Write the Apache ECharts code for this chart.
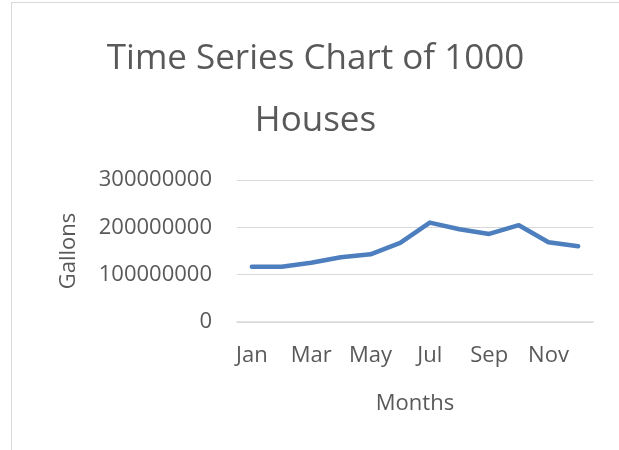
<!DOCTYPE html>
<html>
<head>
<meta charset="utf-8">
<script src="https://cdn.jsdelivr.net/npm/echarts@6/dist/echarts.min.js"></script>
<style>
html,body{margin:0;padding:0;background:#fff;width:619px;height:450px;overflow:hidden;}
#wrap{position:absolute;left:11px;top:2px;width:607px;height:448px;border-left:1px solid #d9d9d9;border-top:1px solid #d9d9d9;}
#chart{width:607px;height:448px;}
</style>
</head>
<body>
<div id="wrap"><div id="chart"></div></div>
<script>
const titleText = 'Time Series Chart of 1000\nHouses';
const months = ['Jan','Feb','Mar','Apr','May','Jun','Jul','Aug','Sep','Oct','Nov','Dec'];
const gallons = [116600000,116600000,125000000,136700000,143000000,167000000,210000000,196000000,186000000,204500000,168500000,160000000];
const yTicks = [0,100000000,200000000,300000000];
const xAxisName = 'Months';
const yAxisName = 'Gallons';

const font = '"Open Sans", "Noto Sans", sans-serif';
const chart = echarts.init(document.getElementById('chart'));
chart.setOption({
  animation:false,
  backgroundColor:'#fff',
  title:{
    text:titleText,
    left:'center',
    top:20,
    textStyle:{fontFamily:font,fontSize:35,fontWeight:'normal',color:'#595959',lineHeight:62}
  },
  grid:{left:225,right:26,top:177,bottom:129,containLabel:false},
  xAxis:{
    type:'category',
    data:months,
    boundaryGap:true,
    name:xAxisName,
    nameLocation:'middle',
    nameGap:71,
    nameTextStyle:{fontFamily:font,fontSize:22,color:'#595959'},
    axisLine:{lineStyle:{color:'#d9d9d9',width:1.5}},
    axisTick:{show:false},
    axisLabel:{interval:1,fontFamily:font,fontSize:22,color:'#595959',margin:23}
  },
  yAxis:{
    type:'value',
    min:yTicks[0],
    max:yTicks[yTicks.length-1],
    interval:yTicks[1]-yTicks[0],
    name:yAxisName,
    nameLocation:'middle',
    nameGap:157,
    nameTextStyle:{fontFamily:font,fontSize:22,color:'#595959'},
    axisLine:{show:false},
    axisTick:{show:false},
    splitLine:{lineStyle:{color:'#d9d9d9',width:1.2}},
    axisLabel:{fontFamily:font,fontSize:22,color:'#595959',margin:25,formatter:function(v){return String(v);}}
  },
  series:[{
    type:'line',
    data:gallons,
    showSymbol:false,
    symbol:'none',
    lineStyle:{color:'#4d7ebd',width:4.5,cap:'round',join:'round'},
    itemStyle:{color:'#4d7ebd'}
  }]
});
</script>
</body>
</html>
